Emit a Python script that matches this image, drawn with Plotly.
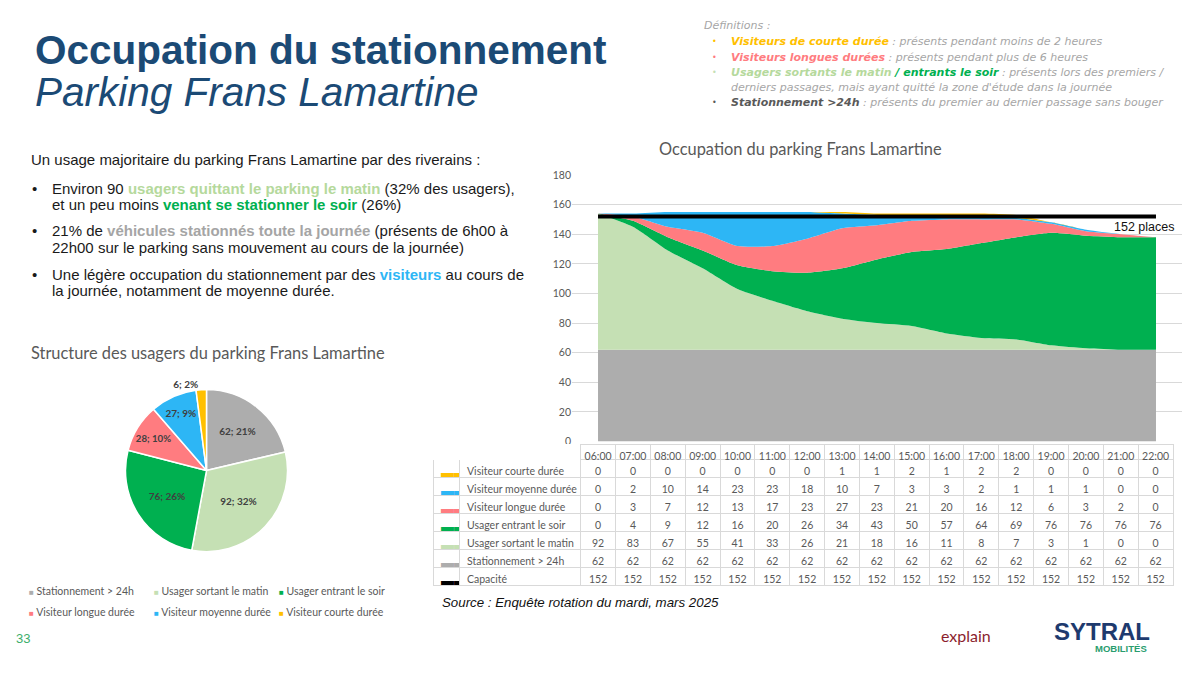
import plotly.graph_objects as go

W, H = 1187, 675

# ---------------- data ----------------
hours = ["06:00", "07:00", "08:00", "09:00", "10:00", "11:00", "12:00", "13:00", "14:00",
         "15:00", "16:00", "17:00", "18:00", "19:00", "20:00", "21:00", "22:00"]
courte = [0, 0, 0, 0, 0, 0, 0, 1, 1, 2, 1, 2, 2, 0, 0, 0, 0]
moyenne = [0, 2, 10, 14, 23, 23, 18, 10, 7, 3, 3, 2, 1, 1, 1, 0, 0]
longue = [0, 3, 7, 12, 13, 17, 23, 27, 23, 21, 20, 16, 12, 6, 3, 2, 0]
entrant = [0, 4, 9, 12, 16, 20, 26, 34, 43, 50, 57, 64, 69, 76, 76, 76, 76]
sortant = [92, 83, 67, 55, 41, 33, 26, 21, 18, 16, 11, 8, 7, 3, 1, 0, 0]
stationnement = [62] * 17
capacite = [152] * 17

series_names = ["Stationnement > 24h", "Usager sortant le matin", "Usager entrant le soir",
                "Visiteur longue durée", "Visiteur moyenne durée", "Visiteur courte durée"]
series_values = [stationnement, sortant, entrant, longue, moyenne, courte]
series_colors = ["#ADADAD", "#C5E0B4", "#00B050", "#FF7C80", "#2DB6F5", "#FFC000"]

pie_labels = series_names
pie_values = [62, 92, 76, 28, 27, 6]

yticks = [0, 20, 40, 60, 80, 100, 120, 140, 160, 180]

# ---------------- helpers ----------------
def px_x(x):
    return x / W

def px_y(y):
    return 1 - y / H

annotations = []

def ann(x, y, text, size=14, color="#000", family="Liberation Sans", xanchor="left", yanchor="middle"):
    annotations.append(dict(x=px_x(x), y=px_y(y), xref="paper", yref="paper", text=text,
                            showarrow=False, xanchor=xanchor, yanchor=yanchor, align="left",
                            font=dict(size=size, color=color, family=family)))

fig = go.Figure()

# ---------------- stacked area ----------------
xs = list(range(len(hours)))
for name, vals, col in zip(series_names, series_values, series_colors):
    fig.add_trace(go.Scatter(x=xs, y=vals, name=name, stackgroup="one", mode="lines",
                             line=dict(width=0, shape="spline", smoothing=0.6, color=col),
                             fillcolor=col, showlegend=False, xaxis="x", yaxis="y"))
fig.add_trace(go.Scatter(x=xs, y=capacite, name="Capacité", mode="lines",
                         line=dict(color="black", width=4), showlegend=False, xaxis="x", yaxis="y"))

fig.add_annotation(x=xs[-1], y=capacite[-1], xref="x", yref="y", text="152 places", showarrow=False,
                   xanchor="right", yanchor="top", xshift=20, yshift=-2,
                   font=dict(size=12.5, color="#111", family="Liberation Sans"))

# ---------------- table ----------------
table_order = [5, 4, 3, 2, 1, 0]  # top to bottom: courte ... stationnement
row_names = [series_names[i] for i in table_order] + ["Capacité"]
row_key_colors = [series_colors[i] for i in table_order] + ["#000000"]
row_series = [series_values[i] for i in table_order] + [capacite]

key_col = ["▬▬"] * len(row_names)
# non-breaking spaces and no markup characters keep the table rows at a fixed height
label_col = [n.replace(" ", "\u00a0").replace(">", "\u02c3") for n in row_names]
cols = [key_col, label_col] + [[str(s[i]) for s in row_series] for i in range(len(hours))]

tx0, tx1 = 433, 1173
fig.add_trace(go.Table(
    domain=dict(x=[px_x(tx0), px_x(tx1)], y=[px_y(592), px_y(446)]),
    columnwidth=[26, 121.7] + [34.84] * len(hours),
    header=dict(values=["", ""] + hours, height=15, align="center",
                fill_color="white",
                line=dict(color=["white", "white"] + ["#D9D9D9"] * len(hours), width=1),
                font=dict(size=10.5, color="#595959", family="Lato")),
    cells=dict(values=cols, height=18, align=["left", "left"] + ["center"] * len(hours),
               fill_color="white", line=dict(color="#D9D9D9", width=1),
               font=dict(size=[13, 10.5] + [10.5] * len(hours),
                         color=[row_key_colors] + ["#595959"] * (len(hours) + 1),
                         family="Lato")),
))

# ---------------- pie ----------------
cx, cy, r = 206.5, 473, 82.5
fig.add_trace(go.Pie(
    labels=pie_labels, values=pie_values, sort=False, direction="clockwise", rotation=0,
    marker=dict(colors=series_colors, line=dict(color="white", width=1.5)),
    texttemplate="<b>%{value}; %{percent:.0%}</b>",
    textposition=["inside"] * 5 + ["outside"], insidetextorientation="horizontal",
    textfont=dict(size=10, color="#404040", family="Lato"),
    domain=dict(x=[px_x(cx - r), px_x(cx + r)], y=[px_y(cy + r), px_y(cy - r)]),
    showlegend=False, hoverinfo="label+value+percent",
))

# pie legend
leg_x = [27, 152, 277]
leg_y = [596, 617]
for i, (lab, col) in enumerate(zip(pie_labels, series_colors)):
    ann(leg_x[i % 3], leg_y[i // 3],
        "<span style='color:%s;font-size:8px'>■</span> %s" % (col, lab),
        size=10.5, color="#595959", family="Lato")

ann(29, 353, "Structure des usagers du parking Frans Lamartine", size=16.4, color="#595959", family="Lato")

# ---------------- titles & texts ----------------
ann(33, 45, "<b>Occupation du stationnement</b>", size=40.5, color="#1B4A75")
ann(33, 88, "<i>Parking Frans Lamartine</i>", size=40.5, color="#1B4A75")

ann(800, 145, "Occupation du parking Frans Lamartine", size=16.4, color="#595959", family="Lato", xanchor="center")

ann(29, 156, "Un usage majoritaire du parking Frans Lamartine par des riverains :", size=15, color="#1a1a1a")
bul = [(186, "Environ 90 <b><span style='color:#B5D99C'>usagers quittant le parking le matin</span></b> (32% des usagers),", True),
       (202, "et un peu moins <b><span style='color:#00B050'>venant se stationner le soir</span></b> (26%)", False),
       (229, "21% de <b><span style='color:#A5A5A5'>véhicules stationnés toute la journée</span></b> (présents de 6h00 à", True),
       (246, "22h00 sur le parking sans mouvement au cours de la journée)", False),
       (273, "Une légère occupation du stationnement par des <b><span style='color:#2DB6F5'>visiteurs</span></b> au cours de", True),
       (290, "la journée, notamment de moyenne durée.", False)]
for y, t, b in bul:
    if b:
        ann(30, y, "•", size=15, color="#1a1a1a")
    ann(50, y, t, size=15, color="#1a1a1a")

# definitions
dg = "#A6A6A6"
ann(702, 20, "<i>Définitions :</i>", size=11, color=dg, family="DejaVu Sans")
defs = [(36, "#FFC000", "<i><b><span style='color:#FFC000'>Visiteurs de courte durée</span></b> : présents pendant moins de 2 heures</i>", True),
        (52, "#FF7C80", "<i><b><span style='color:#FF7C80'>Visiteurs longues durées</span></b> : présents pendant plus de 6 heures</i>", True),
        (68, "#C5E0B4", "<i><b><span style='color:#B5D99C'>Usagers sortants le matin</span><span style='color:#00B050'> / entrants le soir</span></b> : présents lors des premiers /</i>", True),
        (83, None, "<i>derniers passages, mais ayant quitté la zone d'étude dans la journée</i>", False),
        (98, "#595959", "<i><b><span style='color:#595959'>Stationnement >24h</span></b> : présents du premier au dernier passage sans bouger</i>", True)]
for y, bc, t, b in defs:
    if b:
        ann(710, y, "•", size=8, color=bc, family="DejaVu Sans")
    ann(729, y, t, size=11, color=dg, family="DejaVu Sans")

ann(440, 607, "<i>Source : Enquête rotation du mardi, mars 2025</i>", size=13.3, color="#111")

ann(14, 644, "33", size=13, color="#3DAE6B")

# logos (text approximations)
ann(939, 641, "explain", size=16, color="#8B1E2D", family="Lato")
ann(1102, 637, "<b>SYTRAL</b>", size=24, color="#1E3A6E", xanchor="center")
ann(1121, 654, "<b>MOBILITÉS</b>", size=9.5, color="#2A9D6E", xanchor="center")

# ---------------- layout ----------------
x_unit = (1155.5 - 598) / 16
xl = -(598 - 572) / x_unit
fig.update_layout(
    width=W, height=H, margin=dict(l=0, r=0, t=0, b=0),
    paper_bgcolor="white", plot_bgcolor="white",
    font=dict(family="Lato", color="#595959"),
    xaxis=dict(domain=[px_x(572), px_x(1182)], range=[xl, 16 - xl], showgrid=False,
               zeroline=False, showticklabels=False, showline=False, fixedrange=True),
    yaxis=dict(domain=[px_y(443.5), px_y(172)], range=[0, 180], tickvals=yticks,
               showgrid=True, gridcolor="#D9D9D9", gridwidth=1, zeroline=False,
               tickfont=dict(size=10.5, color="#595959", family="Lato"), ticks="", ticklen=0,
               showline=False, fixedrange=True),
    annotations=list(fig.layout.annotations) + annotations,
)

post = ("document.documentElement.style.margin='0';document.body.style.margin='0';"
        "document.body.style.padding='0';document.body.style.overflow='hidden';"
        "document.documentElement.style.overflow='hidden';"
        "var d=document.querySelector('.plotly-graph-div');"
        "d.style.position='absolute';d.style.left='0px';d.style.top='0px';")
fig.write_html("out.html", post_script=post, config={"displayModeBar": False})
